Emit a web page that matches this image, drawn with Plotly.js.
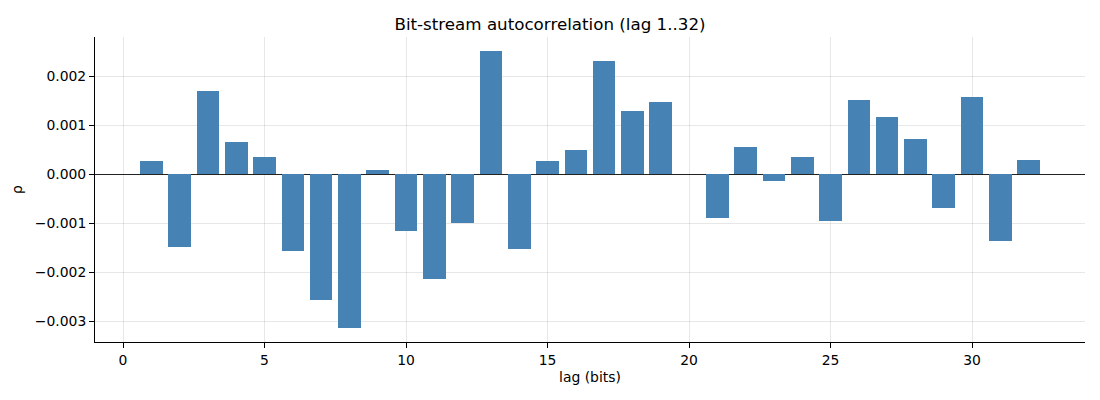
<!DOCTYPE html>
<html>
<head>
<meta charset="utf-8">
<script src="https://cdn.plot.ly/plotly-3.0.1.min.js"></script>
<style>html,body{margin:0;padding:0;background:#fff;}#chart{width:1100px;height:400px;}</style>
</head>
<body>
<div id="chart"></div>
<script>
const lags = [1,2,3,4,5,6,7,8,9,10,11,12,13,14,15,16,17,18,19,20,21,22,23,24,25,26,27,28,29,30,31,32];
const rho = [0.000273,-0.001486,0.001704,0.000661,0.000354,-0.001568,-0.00257,-0.003142,0.000089,-0.001159,-0.00214,-0.000995,0.002522,-0.001527,0.000273,0.000498,0.002318,0.001295,0.001479,0.0,-0.000893,0.000559,-0.000136,0.000354,-0.000954,0.00152,0.001172,0.000723,-0.000688,0.001581,-0.001363,0.000293];
const xTicks = [0,5,10,15,20,25,30];
const yTicks = [-0.003,-0.002,-0.001,0.000,0.001,0.002];

const yTickText = yTicks.map(v => (v < 0 ? '\u2212' : '') + Math.abs(v).toFixed(3));

const trace = {
  type: 'bar',
  x: lags,
  y: rho,
  width: 0.8,
  marker: {color: '#4682b4', line: {width: 0}},
  hoverinfo: 'x+y'
};

const grid = 'rgba(176,176,176,0.3)';
const layout = {
  width: 1100, height: 400,
  margin: {l: 95, r: 15, t: 37, b: 58},
  paper_bgcolor: '#fff', plot_bgcolor: '#fff',
  font: {family: 'DejaVu Sans, sans-serif', size: 13.9, color: '#000'},
  title: {text: 'Bit-stream autocorrelation (lag 1..32)', font: {size: 16.7, color: '#000'}, x: 0.5, xanchor: 'center', y: 0.955, yanchor: 'top'},
  showlegend: false,
  bargap: 0,
  xaxis: {
    range: [-0.99, 33.99],
    tickvals: xTicks,
    ticktext: xTicks.map(String),
    showgrid: true, gridcolor: grid, gridwidth: 1,
    showline: true, linecolor: '#000', linewidth: 1,
    ticks: 'outside', ticklen: 5, tickcolor: '#000', tickwidth: 1,
    zeroline: false,
    layer: 'above traces',
    title: {text: 'lag (bits)', font: {size: 13.9}, standoff: 5},
    tickfont: {size: 13.9}
  },
  yaxis: {
    range: [-0.003425, 0.002805],
    tickvals: yTicks,
    ticktext: yTickText,
    showgrid: true, gridcolor: grid, gridwidth: 1,
    showline: true, linecolor: '#000', linewidth: 1,
    ticks: 'outside', ticklen: 5, tickcolor: '#000', tickwidth: 1,
    zeroline: true, zerolinecolor: '#222', zerolinewidth: 1,
    layer: 'above traces',
    title: {text: 'ρ', font: {size: 13.9}, standoff: 8},
    tickfont: {size: 13.9}
  }
};

Plotly.newPlot('chart', [trace], layout, {displayModeBar: false, staticPlot: true});
</script>
</body>
</html>
